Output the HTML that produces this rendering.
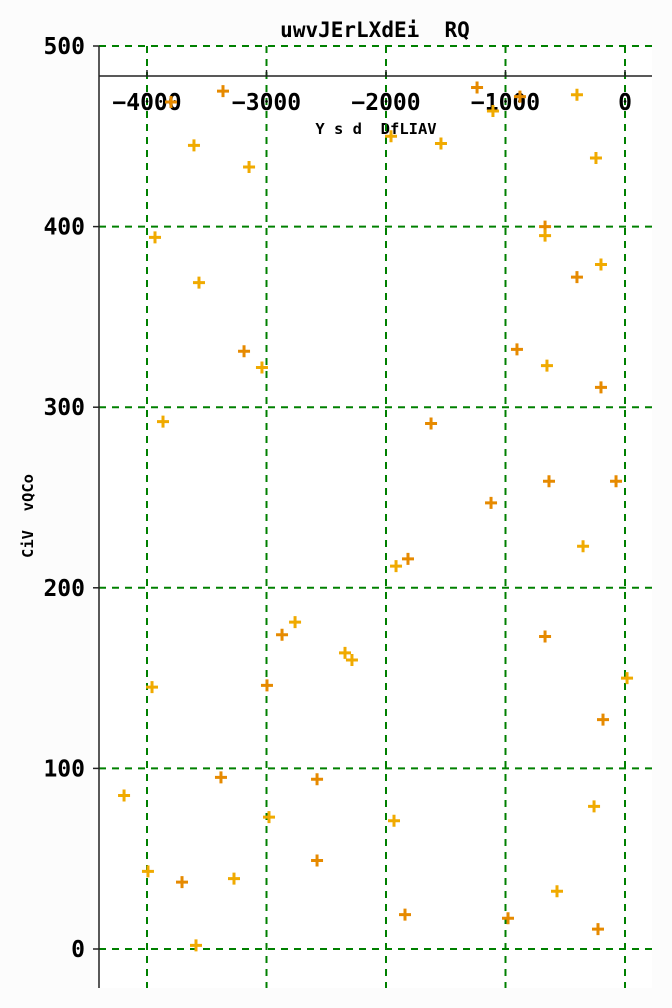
<!DOCTYPE html>
<html><head><meta charset="utf-8"><style>
html,body{margin:0;padding:0;background:#fcfcfc;}
svg{display:block;font-family:"DejaVu Sans Mono","Liberation Mono",monospace;font-weight:bold;}
text{white-space:pre;}
</style></head><body>
<svg id="chart" width="672" height="1008" xmlns="http://www.w3.org/2000/svg" xml:space="preserve">
<rect x="99" y="46" width="553" height="942" fill="#ffffff"/>
<text x="375" y="37" text-anchor="middle" font-size="21">uwvJErLXdEi  RQ</text>
<text x="376" y="134" text-anchor="middle" font-size="15.5">Y s d  DfLIAV</text>
<text transform="translate(33,516) rotate(-90)" text-anchor="middle" font-size="15.5">CiV  vQCo</text>
<g id="grid"></g><g id="axes"></g><g id="marks"></g>
</svg>
<script>
const xTicks=[-4000,-3000,-2000,-1000,0];
const yTicks=[0,100,200,300,400,500];
const orangeX=[-3364,-3799,-1238,-879,-3188,-2996,-2870,-3381,-2577,-3707,-2577,-1841,-1816,-1623,-1121,-904,-669,-669,-636,-402,-201,-75,-184,-226,-979];
const orangeY=[475,469,477,472,331,146,174,95,94,37,49,19,216,291,247,332,400,173,259,372,311,259,127,11,17];
const yellowX=[-3607,-3146,-3933,-3565,-3038,-3866,-3958,-4192,-3992,-3272,-3590,-2979,-2761,-2343,-2285,-1933,-1916,-1958,-1540,-1105,-402,-243,-201,-653,-669,-351,17,-259,-569];
const yellowY=[445,433,394,369,322,292,145,85,43,39,2,73,181,164,160,71,212,450,446,464,473,438,379,323,395,223,150,79,32];
const NS="http://www.w3.org/2000/svg";
const sx=v=>625+v*0.1195;
const sy=v=>949-v*1.806;
function mk(tag,attrs,parent){const e=document.createElementNS(NS,tag);for(const k in attrs)e.setAttribute(k,attrs[k]);parent.appendChild(e);return e;}
const grid=document.getElementById('grid'),axes=document.getElementById('axes'),marks=document.getElementById('marks');
xTicks.forEach(t=>{
  const l=mk('line',{x1:sx(t),x2:sx(t),y1:46,y2:988,stroke:'#008000','stroke-width':2,'stroke-dasharray':'7,6'},grid);
  
  
  const tk=mk('line',{x1:sx(t),x2:sx(t),y1:70,y2:76,stroke:'#222','stroke-width':1.5},axes);
  
  
  const tx=mk('text',{x:sx(t),y:110,'text-anchor':'middle','font-size':23},axes);
  tx.textContent=(t<0?'\u2212'+(-t):t);
  
  
});
yTicks.forEach(t=>{
  const l=mk('line',{x1:99,x2:652,y1:sy(t),y2:sy(t),stroke:'#008000','stroke-width':2,'stroke-dasharray':'7,6'},grid);
  
  
  const tk=mk('line',{x1:93,x2:99,y1:sy(t),y2:sy(t),stroke:'#222','stroke-width':1.5},axes);
  
  
  const tx=mk('text',{x:85,y:sy(t)+8,'text-anchor':'end','font-size':23},axes);
  tx.textContent=t;
  
  
});
const ya=mk('line',{x1:99,x2:99,y1:46,y2:988,stroke:'#222','stroke-width':1.5},axes);


const xa=mk('line',{x1:99,x2:652,y1:76,y2:76,stroke:'#222','stroke-width':1.5},axes);


function plus(x,y,c){
  return mk('path',{d:`M${x-6},${y}H${x+6}M${x},${y-6}V${y+6}`,stroke:c,'stroke-width':3,fill:'none'},marks);
}
orangeX.forEach((v,i)=>{
  const p=plus(sx(v),sy(orangeY[i]),'#e68a00');
  
  
});
yellowX.forEach((v,i)=>{
  const p=plus(sx(v),sy(yellowY[i]),'#f0aa00');
  
  
});
</script>
</body></html>
